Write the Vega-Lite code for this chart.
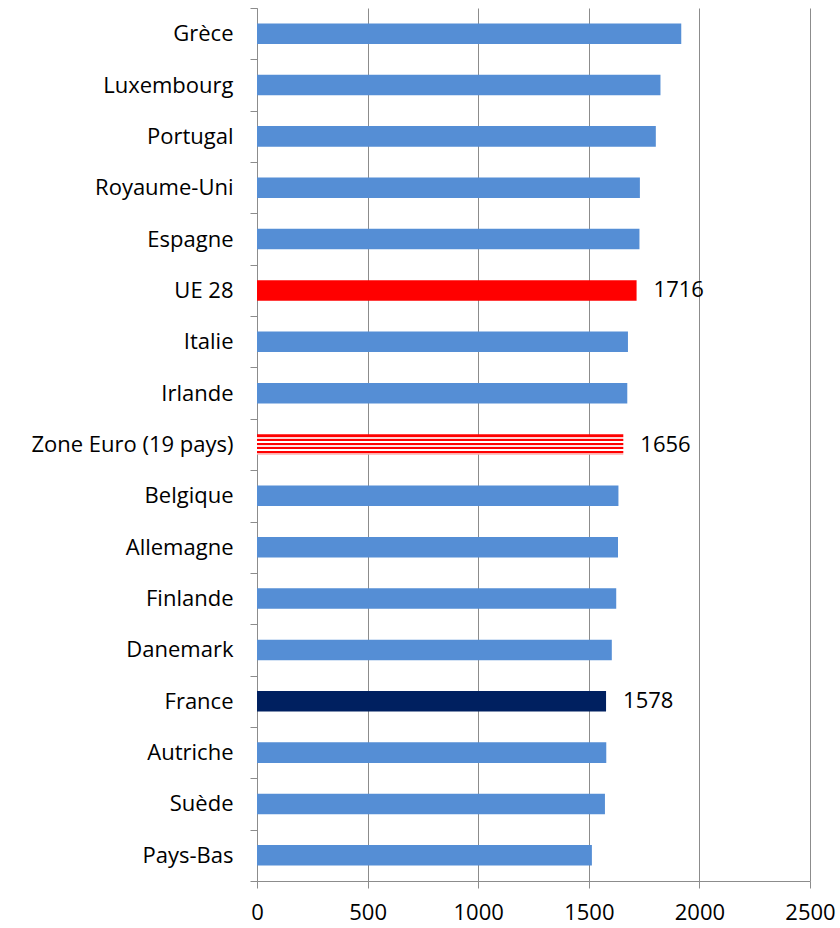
{
  "$schema": "https://vega.github.io/schema/vega-lite/v6.json",
  "width": 553,
  "height": 873,
  "autosize": "none",
  "padding": {"left": 257, "top": 8, "right": 30, "bottom": 47},
  "background": "white",
  "config": {"view": {"stroke": null}, "font": "Open Sans"},
  "data": {
    "values": [
      {"pays": "Grèce ", "heures": 1918},
      {"pays": "Luxembourg", "heures": 1824},
      {"pays": "Portugal", "heures": 1803},
      {"pays": "Royaume-Uni", "heures": 1731},
      {"pays": "Espagne", "heures": 1729},
      {"pays": "UE 28", "heures": 1716},
      {"pays": "Italie", "heures": 1677},
      {"pays": "Irlande ", "heures": 1674},
      {"pays": "Zone Euro (19 pays) ", "heures": 1656},
      {"pays": "Belgique", "heures": 1634},
      {"pays": "Allemagne", "heures": 1632},
      {"pays": "Finlande", "heures": 1624},
      {"pays": "Danemark", "heures": 1604},
      {"pays": "France ", "heures": 1578},
      {"pays": "Autriche", "heures": 1579},
      {"pays": "Suède ", "heures": 1573},
      {"pays": "Pays-Bas", "heures": 1514}
    ]
  },
  "encoding": {
    "y": {
      "field": "pays",
      "type": "nominal",
      "sort": null,
      "scale": {
        "domain": ["Grèce ", "Luxembourg", "Portugal", "Royaume-Uni", "Espagne", "UE 28", "Italie", "Irlande ", "Zone Euro (19 pays) ", "Belgique", "Allemagne", "Finlande", "Danemark", "France ", "Autriche", "Suède ", "Pays-Bas"],
        "paddingInner": 0,
        "paddingOuter": 0
      },
      "axis": {
        "title": null,
        "labelFontSize": 22,
        "labelFont": "Open Sans",
        "labelColor": "#000000",
        "labelPadding": 17,
        "labelLimit": 400,
        "tickSize": 7,
        "tickColor": "#8c8c8c",
        "domainColor": "#8c8c8c",
        "tickBand": "extent",
        "grid": false
      }
    },
    "x": {
      "field": "heures",
      "type": "quantitative",
      "scale": {"domain": [0, 2500], "nice": false},
      "axis": {
        "title": null,
        "values": [0, 500, 1000, 1500, 2000, 2500],
        "format": "d",
        "grid": true,
        "gridColor": "#8c8c8c",
        "gridOpacity": 1,
        "labelFontSize": 22,
        "labelFont": "Open Sans",
        "labelColor": "#000000",
        "labelPadding": 14,
        "labelFlush": false,
        "tickSize": 7,
        "tickColor": "#8c8c8c",
        "domainColor": "#8c8c8c"
      }
    }
  },
  "layer": [
    {
      "transform": [{"filter": "datum.pays !== 'Zone Euro (19 pays) '"}],
      "mark": {"type": "bar", "height": {"band": 0.4}},
      "encoding": {
        "color": {
          "condition": [
            {"test": "datum.pays === 'UE 28'", "value": "#FF0000"},
            {"test": "datum.pays === 'France '", "value": "#002060"}
          ],
          "value": "#558ED5"
        }
      }
    },
    {
      "transform": [{"filter": "datum.pays === 'Zone Euro (19 pays) '"}],
      "mark": {
        "type": "bar",
        "height": {"band": 0.4},
        "fill": {
          "gradient": "linear",
          "x1": 0, "y1": 0, "x2": 0, "y2": 1,
          "stops": [
            {"offset": 0, "color": "#FF0000"},
            {"offset": 0.13, "color": "#FF0000"},
            {"offset": 0.13, "color": "#FFD0D0"},
            {"offset": 0.23, "color": "#FFD0D0"},
            {"offset": 0.23, "color": "#FF0000"},
            {"offset": 0.33, "color": "#FF0000"},
            {"offset": 0.33, "color": "#FFFFFF"},
            {"offset": 0.43, "color": "#FFFFFF"},
            {"offset": 0.43, "color": "#FF0000"},
            {"offset": 0.53, "color": "#FF0000"},
            {"offset": 0.53, "color": "#FFE0E0"},
            {"offset": 0.63, "color": "#FFE0E0"},
            {"offset": 0.63, "color": "#FF0000"},
            {"offset": 0.72, "color": "#FF0000"},
            {"offset": 0.72, "color": "#FFFFFF"},
            {"offset": 0.81, "color": "#FFFFFF"},
            {"offset": 0.81, "color": "#FF0000"},
            {"offset": 0.9, "color": "#FF0000"},
            {"offset": 0.9, "color": "#FFB0B0"},
            {"offset": 1, "color": "#FFB0B0"}
          ]
        }
      }
    },
    {
      "transform": [{"filter": "indexof(['UE 28', 'Zone Euro (19 pays) ', 'France '], datum.pays) >= 0"}],
      "mark": {"type": "text", "align": "left", "baseline": "middle", "dx": 17, "fontSize": 22, "font": "Open Sans", "color": "#000000"},
      "encoding": {"text": {"field": "heures", "type": "quantitative", "format": "d"}}
    }
  ]
}
